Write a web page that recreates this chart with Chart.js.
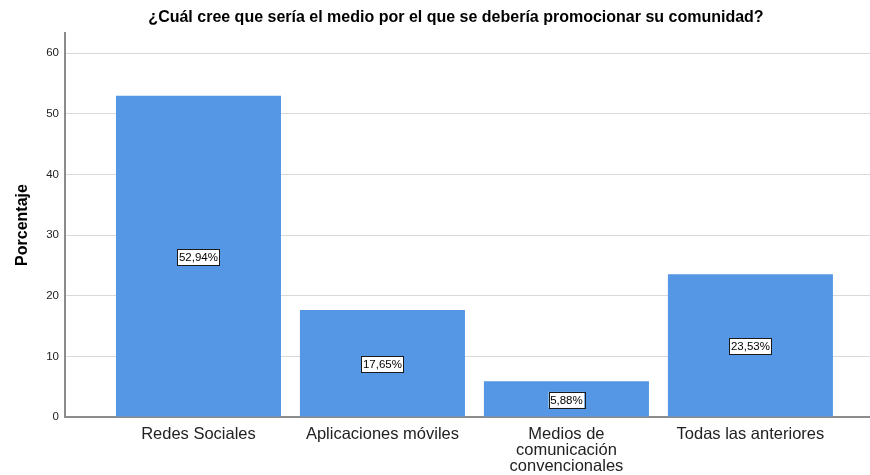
<!DOCTYPE html>
<html>
<head>
<meta charset="utf-8">
<script src="https://cdn.jsdelivr.net/npm/chart.js@4.4.1/dist/chart.umd.min.js"></script>
<style>
  html, body { margin: 0; padding: 0; background: #fff; }
  #wrap { width: 870px; height: 475px; }
</style>
</head>
<body>
<div id="wrap"><canvas id="myChart"></canvas></div>
<script>
// data
const titulo = '¿Cuál cree que sería el medio por el que se debería promocionar su comunidad?'
const categorias = [
    ['Redes Sociales'],
    ['Aplicaciones móviles'],
    ['Medios de', 'comunicación', 'convencionales'],
    ['Todas las anteriores'],
]
const porcentajes = [52.94, 17.65, 5.88, 23.53]
const etiquetas = ['52,94%', '17,65%', '5,88%', '23,53%']
const yTicks = [0, 10, 20, 30, 40, 50, 60]

const puntos = porcentajes.map((v, i) => ({ x: i + 1, y: v }))

// caja blanca con el porcentaje en medio de cada barra
const cajasPlugin = {
    id: 'cajas',
    afterDatasetsDraw(chart) {
        const ctx = chart.ctx
        const meta = chart.getDatasetMeta(0)
        ctx.save()
        ctx.font = '11.5px "Liberation Sans", Arial, sans-serif'
        ctx.textAlign = 'center'
        ctx.textBaseline = 'middle'
        meta.data.forEach((bar, i) => {
            const txt = etiquetas[i]
            const cy = (bar.y + bar.base) / 2 + 1
            const w = ctx.measureText(txt).width + 3
            const h = 16
            ctx.fillStyle = '#ffffff'
            ctx.fillRect(bar.x - w / 2, cy - h / 2, w, h)
            ctx.strokeStyle = '#1a1a1a'
            ctx.lineWidth = 1
            ctx.strokeRect(Math.round(bar.x - w / 2) + 0.5, Math.round(cy - h / 2) + 0.5, Math.round(w), h)
            ctx.fillStyle = '#000000'
            ctx.fillText(txt, bar.x, cy + 0.5)
        })
        ctx.restore()
    }
}

const tituloPlugin = {
    id: 'tituloArriba',
    afterDraw(chart) {
        const ctx = chart.ctx
        ctx.save()
        ctx.font = 'bold 16px "Liberation Sans", Arial, sans-serif'
        ctx.textAlign = 'center'
        ctx.textBaseline = 'middle'
        ctx.fillStyle = '#000'
        ctx.fillText(titulo, 456, 18)
        ctx.restore()
    }
}

const ctx = document.getElementById('myChart')
const myChart = new Chart(ctx, {
    type: 'bar',
    data: {
        datasets: [{
            label: 'Porcentaje',
            data: puntos,
            backgroundColor: '#5596e5',
            borderWidth: 0,
            barPercentage: 0.897,
            categoryPercentage: 1,
        }]
    },
    options: {
        responsive: true,
        maintainAspectRatio: false,
        animation: false,
        layout: { padding: { top: 33, left: 0, right: 0, bottom: 0 } },
        plugins: {
            legend: { display: false },
            tooltip: { enabled: false },
        },
        scales: {
            x: {
                type: 'linear',
                offset: false,
                min: 0.2745,
                max: 4.65,
                afterBuildTicks: (scale) => {
                    scale.ticks = categorias.map((c, i) => ({ value: i + 1 }))
                },
                afterFit: (scale) => { scale.height = 58 },
                grid: { display: false, drawTicks: false, offset: false },
                border: { color: '#8c8c8c', width: 2 },
                ticks: {
                    padding: 9,
                    maxRotation: 0,
                    autoSkip: false,
                    color: '#222',
                    font: { family: '"Liberation Sans", Arial, sans-serif', size: 16.5, lineHeight: 0.99 },
                    callback: (v) => categorias[Math.round(v) - 1],
                },
            },
            y: {
                min: 0,
                max: 63.3,
                afterBuildTicks: (scale) => {
                    scale.ticks = yTicks.map(v => ({ value: v }))
                },
                afterFit: (scale) => { scale.width = 65 },
                grid: { color: '#d9d9d9', lineWidth: 1, drawTicks: false },
                border: { color: '#8c8c8c', width: 2 },
                ticks: {
                    padding: 6,
                    color: '#222',
                    font: { family: '"Liberation Sans", Arial, sans-serif', size: 11.5 },
                },
                title: {
                    display: true,
                    text: 'Porcentaje',
                    color: '#000',
                    padding: { top: 13, bottom: 0 },
                    font: { family: '"Liberation Sans", Arial, sans-serif', size: 16, weight: 'bold' },
                },
            },
        },
    },
    plugins: [cajasPlugin, tituloPlugin],
})
</script>
</body>
</html>
